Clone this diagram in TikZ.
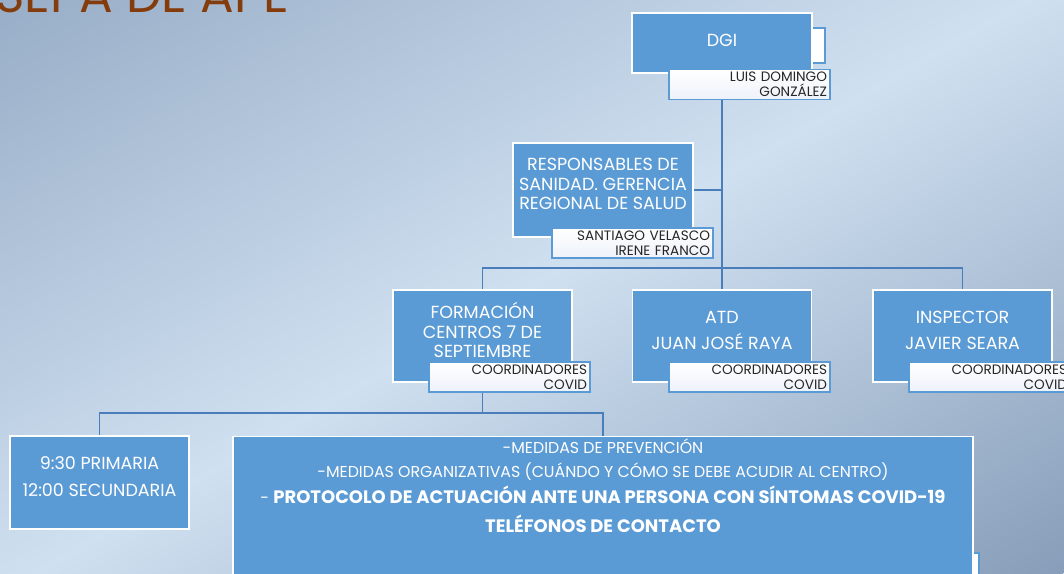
\documentclass[tikz,border=0pt]{standalone}
\usepackage{fontspec}
\setmainfont{Poppins}
\usetikzlibrary{backgrounds}

\definecolor{cajaazul}{HTML}{5B9BD5}
\definecolor{linea}{HTML}{4A7EBB}
\definecolor{titulo}{HTML}{843C0C}
\definecolor{fondoA}{HTML}{98ADC7}
\definecolor{fondoB}{HTML}{CFE0F0}
\definecolor{fondoC}{HTML}{879DB9}
\definecolor{textoetq}{HTML}{262626}
\definecolor{etqfondo}{HTML}{EDF2FA}

\tikzset{
  caja/.style={rectangle, fill=cajaazul, draw=white, line width=1.2pt, inner sep=0pt},
  textocaja/.style={text=white, align=center, inner sep=0pt, font=\fontsize{17.5}{19.5}\selectfont},
  etiqueta/.style={rectangle, top color=white, bottom color=etqfondo, draw=cajaazul, line width=1.2pt,
    text=textoetq, align=right, inner xsep=3pt, inner ysep=0pt, text width=155pt, minimum height=30pt,
    font=\fontsize{13.6}{15}\selectfont},
  tapada/.style={fill=white, draw=cajaazul, line width=1.2pt},
  conector/.style={draw=linea, line width=1.3pt}
}

\begin{document}
\begin{tikzpicture}[x=1pt,y=-1pt]
  \useasboundingbox (0,0) rectangle (1064,573);

  % Cajas tapadas
  \draw[tapada] (790,28) rectangle (825,63);
  \draw[tapada] (940,553) rectangle (979,600);

  % Cajas principales
  \node[caja, minimum width=180pt, minimum height=60pt,
    label={[textocaja, yshift=3pt]center:DGI}] (dgi) at (722,43) {};
  \node[caja, minimum width=180pt, minimum height=94pt,
    label={[textocaja, yshift=6pt]center:{RESPONSABLES DE\\SANIDAD. GERENCIA\\REGIONAL DE SALUD}}] (resp) at (603,190) {};
  \node[caja, minimum width=179pt, minimum height=92pt,
    label={[textocaja, yshift=6pt]center:{FORMACIÓN\\CENTROS 7 DE\\SEPTIEMBRE}}] (form) at (482.5,336) {};
  \node[caja, minimum width=179pt, minimum height=92pt,
    label={[textocaja, yshift=6pt, font=\fontsize{17.5}{26}\selectfont]center:{ATD\\JUAN JOSÉ RAYA}}] (atd) at (722,336) {};
  \node[caja, minimum width=179pt, minimum height=92pt,
    label={[textocaja, yshift=6pt, font=\fontsize{17.5}{26}\selectfont]center:{INSPECTOR\\JAVIER SEARA}}] (insp) at (962.5,336) {};
  \node[caja, minimum width=179pt, minimum height=93pt,
    label={[textocaja, yshift=6pt, font=\fontsize{17.5}{27}\selectfont]center:{9:30 PRIMARIA\\12:00 SECUNDARIA}}] (hora) at (99.5,482.5) {};
  \node[caja, anchor=north, minimum width=740pt, minimum height=200pt] (medidas) at (603,436) {};
  \node[textocaja, font=\fontsize{15.8}{24}\selectfont] (medidas-txt) at (603,486) {%
    -MEDIDAS DE PREVENCIÓN\\
    -MEDIDAS ORGANIZATIVAS (CUÁNDO Y CÓMO SE DEBE ACUDIR AL CENTRO)\\[2pt]
    - \textbf{\fontsize{18}{24}\selectfont PROTOCOLO DE ACTUACIÓN ANTE UNA PERSONA CON SÍNTOMAS COVID-19}\\[5pt]
    \textbf{\fontsize{18}{24}\selectfont TELÉFONOS DE CONTACTO}};

  % Etiquetas con nombres
  \node[etiqueta] (dgi-etq) at (749.5,84.5) {LUIS DOMINGO\\GONZÁLEZ};
  \node[etiqueta] (resp-etq) at (632.5,243) {SANTIAGO VELASCO\\IRENE FRANCO};
  \node[etiqueta] (form-etq) at (509.5,377) {COORDINADORES\\COVID};
  \node[etiqueta] (atd-etq) at (749.5,377) {COORDINADORES\\COVID};
  \node[etiqueta] (insp-etq) at (989.5,377) {COORDINADORES\\COVID};

  \coordinate (bus) at (722,268);
  \coordinate (bus2) at (482.5,413);

  \begin{scope}[on background layer]
    % Fondo degradado
    \begin{scope}[transform canvas={rotate around={-60:(532,286.5)}}]
      \shade[left color=fondoA, right color=fondoC, middle color=fondoB]
        (18,-324) rectangle (1046,897);
    \end{scope}
    % Titulo (cortado arriba)
    \node[anchor=base west, text=titulo, inner sep=0pt, font=\fontsize{50}{50}\selectfont]
      (titulo) at (-5,12) {SEPA DE APE};

    % Conectores
    \draw[conector] (dgi) -- (bus);
    \draw[conector] (resp.east) -- (resp.east -| bus);
    \draw[conector] (form.north) |- (bus);
    \draw[conector] (atd.north) -- (atd.north |- bus);
    \draw[conector] (insp.north) |- (bus);
    \draw[conector] (form.south) -- (bus2);
    \draw[conector] (hora.north) |- (bus2);
    \draw[conector] (medidas.north) |- (bus2);
  \end{scope}
\end{tikzpicture}
\end{document}
